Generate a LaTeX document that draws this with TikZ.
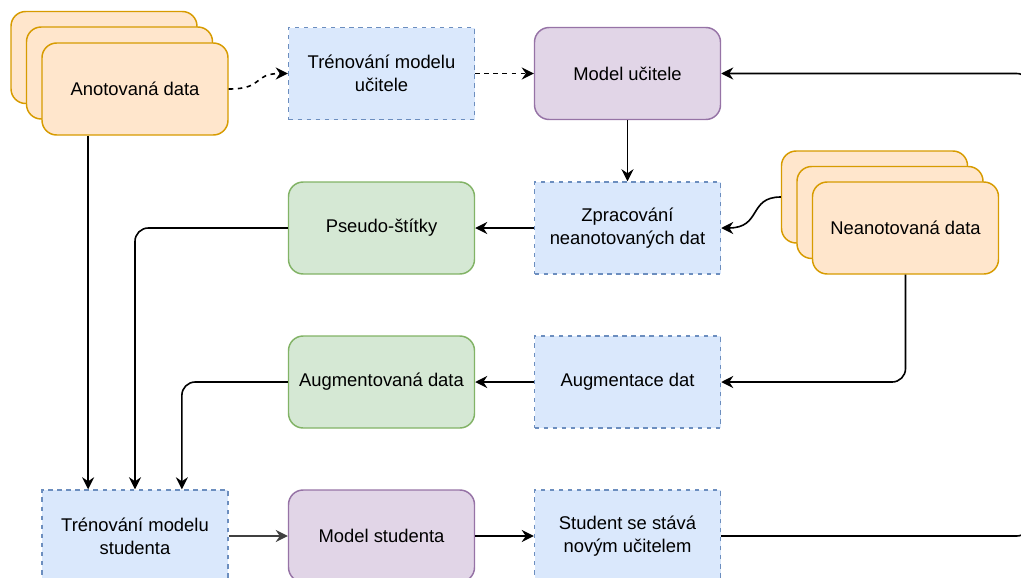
\documentclass[tikz,border=0pt]{standalone}
\usepackage{fontspec}
\setmainfont{Liberation Sans}
\usetikzlibrary{arrows.meta,calc}
\definecolor{orFill}{HTML}{FFE6CC}
\definecolor{orLine}{HTML}{D79B00}
\definecolor{blFill}{HTML}{DAE8FC}
\definecolor{blLine}{HTML}{6C8EBF}
\definecolor{puFill}{HTML}{E1D5E7}
\definecolor{puLine}{HTML}{9673A6}
\definecolor{grFill}{HTML}{D5E8D4}
\definecolor{grLine}{HTML}{82B366}
\tikzset{
  box/.style={minimum width=139.5pt, minimum height=69pt, inner sep=0pt,
    line width=1.1pt, align=center, font=\fontsize{13.8}{17.2}\selectfont},
  orangebox/.style={box, rounded corners=11pt, fill=orFill, draw=orLine},
  bluebox/.style={box, fill=blFill, draw=blLine, dash pattern=on 3.4pt off 3.4pt},
  purplebox/.style={box, rounded corners=11pt, fill=puFill, draw=puLine},
  greenbox/.style={box, rounded corners=11pt, fill=grFill, draw=grLine},
  link/.style={line width=1.2pt, -{Stealth[length=9pt,width=9pt,inset=3pt]}},
  dashlink/.style={link, dash pattern=on 3.4pt off 3.4pt},
}
\begin{document}
\begin{tikzpicture}[x=0.75pt,y=-0.75pt]
\useasboundingbox (0,0) rectangle (1021,578);
\clip (0,0) rectangle (1021,578);

% annotated data (stack of three sheets)
\node[orangebox] (an1) at (104,57.5) {};
\node[orangebox] (an2) at (119.5,73) {};
\node[orangebox] (an) at (135,89) {Anotovaná data};

% teacher branch
\node[bluebox] (tu) at (381.5,73.5) {Trénování modelu\\učitele};
\node[purplebox] (mu) at (627.5,73.5) {Model učitele};
\node[bluebox] (zp) at (627.5,228) {Zpracování\\neanotovaných dat};
\node[greenbox] (ps) at (381.5,228) {Pseudo-štítky};

% unannotated data (stack of three sheets)
\node[orangebox] (nb1) at (874.5,197) {};
\node[orangebox] (nb2) at (890,212.5) {};
\node[orangebox] (nb) at (905.5,228) {Neanotovaná data};

% augmentation
\node[bluebox] (ad) at (627.5,382) {Augmentace dat};
\node[greenbox] (ag) at (381.5,382) {Augmentovaná data};

% student branch
\node[bluebox] (stud) at (135,536) {Trénování modelu\\studenta};
\node[purplebox] (ms) at (381.5,536) {Model studenta};
\node[bluebox] (sn) at (627.5,536) {Student se stává\\novým učitelem};

% connectors
\draw[dashlink] (an.east) .. controls (265,89) and (252,73.5) .. (tu.west);
\draw[dashlink] (tu) -- (mu);
\draw[link] (mu) -- (zp);
\draw[link] (nb1.west) .. controls (748,197) and (762,228) .. (zp.east);
\draw[link] (zp) -- (ps);
\draw[link, rounded corners=10pt] (ps.west) -| (stud.north);
\coordinate (anout) at ($(an.south west)!0.25!(an.south east)$);
\draw[link] (anout) -- (anout |- stud.north);
\draw[link, rounded corners=10pt] (nb.south) |- (ad.east);
\draw[link] (ad) -- (ag);
\coordinate (agin) at ($(stud.north west)!0.75!(stud.north east)$);
\draw[link, rounded corners=10pt] (ag.west) -| (agin);
\draw[link, draw=black!75, fill=black!75] (stud) -- (ms);
\draw[link] (ms) -- (sn);
\draw[link, rounded corners=10pt] (sn.east) -- (1030,536) -- (1030,73.5) -- (mu.east);
\end{tikzpicture}
\end{document}
